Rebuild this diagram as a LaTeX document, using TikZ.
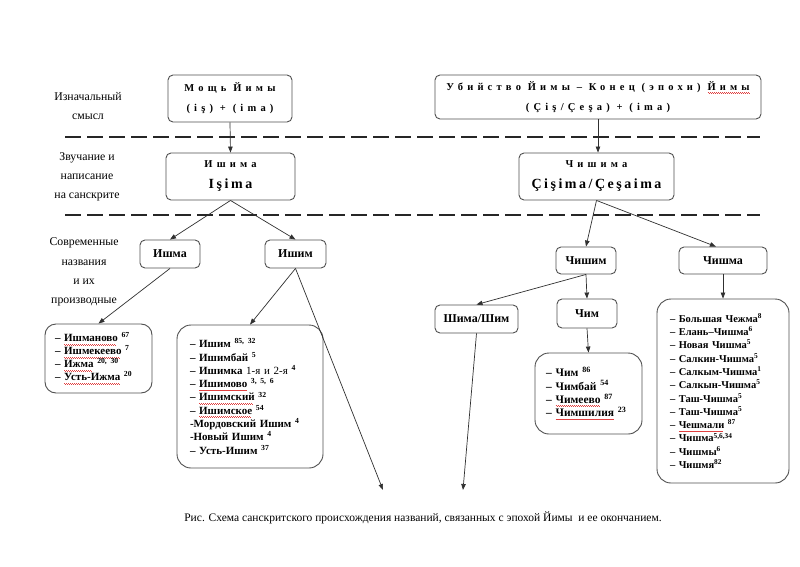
\documentclass[tikz,border=0pt]{standalone}
\usepackage{fontspec}
\setmainfont{Liberation Serif}
\newfontfamily\lsp[LetterSpace=40]{Liberation Serif}
\newfontfamily\lspb[LetterSpace=18]{Liberation Serif}
\usetikzlibrary{arrows.meta,calc}
\definecolor{linec}{HTML}{505050}
\definecolor{arrc}{HTML}{303030}
\definecolor{spellc}{HTML}{E04040}
\newsavebox\wvbox
\newcommand\wv[1]{\sbox\wvbox{#1}\rlap{\color{spellc}\leaders\hbox to 2pt{\vrule height -2pt depth 2.6pt width 0.7pt\hskip0.3pt\vrule height -2.7pt depth 3.3pt width 0.7pt\hss}\hskip\wd\wvbox}\usebox\wvbox}
\newcommand\su[1]{\textsuperscript{#1}}
\begin{document}
\begin{tikzpicture}[x=1pt,y=-1pt,
  box/.style={draw=linec, rounded corners=5pt, line width=0.9pt, inner sep=0pt, align=center,
    font=\bfseries\fontsize{12}{14}\selectfont},
  topbox/.style={box, font=\bfseries\fontsize{10.5}{20}\selectfont},
  listbox/.style={draw=linec, rounded corners=14pt, line width=0.9pt, align=left, inner ysep=0pt,
    font=\bfseries\fontsize{11.5}{13.3}\selectfont},
  arr/.style={-{Triangle[length=6pt,width=4.5pt]}, line width=0.7pt, draw=arrc},
  sepline/.style={line width=1.8pt, dash pattern=on 16pt off 6pt, draw=black!85},
  lbl/.style={align=center, inner sep=0pt, font=\fontsize{11.8}{19.3}\selectfont}]
\useasboundingbox (0,0) rectangle (800,567);
\fill[white] (0,0) rectangle (800,567);

% dashed separators
\coordinate (s1a) at (65,137); \coordinate (s1b) at (760,137);
\coordinate (s2a) at (65,215); \coordinate (s2b) at (760,215);
\draw[sepline] (s1a) -- (s1b);
\draw[sepline] (s2a) -- (s2b);

% left labels
\node[lbl] (l1) at (88,106) {Изначальный\\смысл};
\node[lbl] (l2) at (87,177) {Звучание и\\написание\\на санскрите};
\node[lbl] (l3) at (84,272) {Современные\\названия\\и их\\производные};

% top row
\node[topbox, minimum width=124, minimum height=47] (mosch) at (230,98.5)
  {{\lsp Мощь Йимы}\\{\lsp (iş) + (ima)}};
\node[topbox, minimum width=326, minimum height=44] (ubi) at (598,97)
  {{\lsp Убийство Йимы – Конец (эпохи) \wv{Йимы}}\\{\lsp (Çiş/Çeşa) + (ima)}};

% second row
\node[box, font=\bfseries\fontsize{10.5}{21}\selectfont, minimum width=129, minimum height=47] (ishima) at (230.5,176.5)
  {{\lsp Ишима}\\{\lspb\fontsize{14}{21}\selectfont Işima}};
\node[box, font=\bfseries\fontsize{10.5}{21}\selectfont, minimum width=155, minimum height=47] (chishima) at (596.5,176.5)
  {{\lsp Чишима}\\{\lspb\fontsize{14}{21}\selectfont Çişima/Çeşaima}};

% third row
\node[box, minimum width=60, minimum height=28] (ishma) at (170,254) {Ишма};
\node[box, minimum width=61, minimum height=28] (ishim) at (295.5,254) {Ишим};
\node[box, minimum width=60, minimum height=27] (chishim) at (586,260.5) {Чишим};
\node[box, minimum width=88, minimum height=27] (chishma) at (723,260.5) {Чишма};
\node[box, minimum width=83, minimum height=28] (shima) at (476.5,319) {Шима/Шим};
\node[box, minimum width=60, minimum height=29] (chim) at (587,313.5) {Чим};

% lists
\node[listbox, font=\bfseries\fontsize{11}{13}\selectfont, rounded corners=11pt, text width=87, inner xsep=10, minimum height=69] (ishmaL) at (98.5,358.5)
  {– \wv{Ишманово} \su{67}\\
   – \wv{Ишмекеево} \su{7}\\
   – \wv{Ижма} \su{20, 30}\\
   – \wv{Усть-Ижма} \su{20}};
\node[listbox, font=\bfseries\fontsize{11}{13.3}\selectfont, text width=120, inner xsep=13, minimum height=143] (ishimL) at (250,396.5)
  {– Ишим \su{85, 32}\\
   – Ишимбай \su{5}\\
   – Ишимка {\mdseries 1-я и 2-я} \su{4}\\
   – \wv{Ишимово} \su{3, 5, 6}\\
   – \wv{Ишимский} \su{32}\\
   – \wv{Ишимское} \su{54}\\
   -Мордовский Ишим \su{4}\\
   -Новый Ишим \su{4}\\
   – Усть-Ишим \su{37}};
\node[listbox, font=\bfseries\fontsize{11.5}{13.3}\selectfont, text width=85, inner xsep=11, minimum height=81] (chimL) at (588.5,393.5)
  {– Чим \su{86}\\
   – Чимбай \su{54}\\
   – \wv{Чимеево} \su{87}\\
   – \wv{Чимшилия} \su{23}\\[8pt]};
\node[listbox, font=\bfseries\fontsize{10.5}{13.3}\selectfont, text width=106, inner xsep=13, minimum height=184] (chishmaL) at (723,391)
  {– Большая Чежма\su{8}\\
   – Елань–Чишма\su{6}\\
   – Новая Чишма\su{5}\\
   – Салкин-Чишма\su{5}\\
   – Салкым-Чишма\su{1}\\
   – Салкын-Чишма\su{5}\\
   – Таш-Чишма\su{5}\\
   – Таш-Чишма\su{5}\\
   – \wv{Чешмали} \su{87}\\
   – Чишма\su{5,6,34}\\
   – Чишмы\su{6}\\
   – Чишмя\su{82}};

% free ends
\coordinate (e1) at (383,490);
\coordinate (e2) at (463,490);

% connectors
\draw[arr] (mosch.south) -- (ishima.north);
\draw[arr] (ubi.south) -- (ubi.south |- chishima.north);
\draw[arr] (ishima.south) -- (ishma.north);
\draw[arr] (ishima.south) -- (ishim.north);
\draw[arr] (ishma.south) -- (ishmaL.north);
\draw[arr] (ishim.south) -- (ishimL.north);
\draw[arr] (ishim.south) -- (e1);
\draw[arr] (chishima.south) -- (chishim.north);
\draw[arr] (chishima.south) -- ($(chishma.north west)!0.42!(chishma.north east)$);
\draw[arr] (chishim.south) -- (shima.north);
\draw[arr] (chishim.south) -- (chim.north);
\draw[arr] (chim.south) -- (chimL.north);
\draw[arr] (chishma.south) -- (chishmaL.north);
\draw[arr] (shima.south) -- (e2);

% caption
\node[inner sep=0pt, font=\fontsize{11.5}{13}\selectfont] (cap) at (423,518)
  {Рис. Схема санскритского происхождения названий, связанных с эпохой Йимы\ \ и ее окончанием.};
\end{tikzpicture}
\end{document}
